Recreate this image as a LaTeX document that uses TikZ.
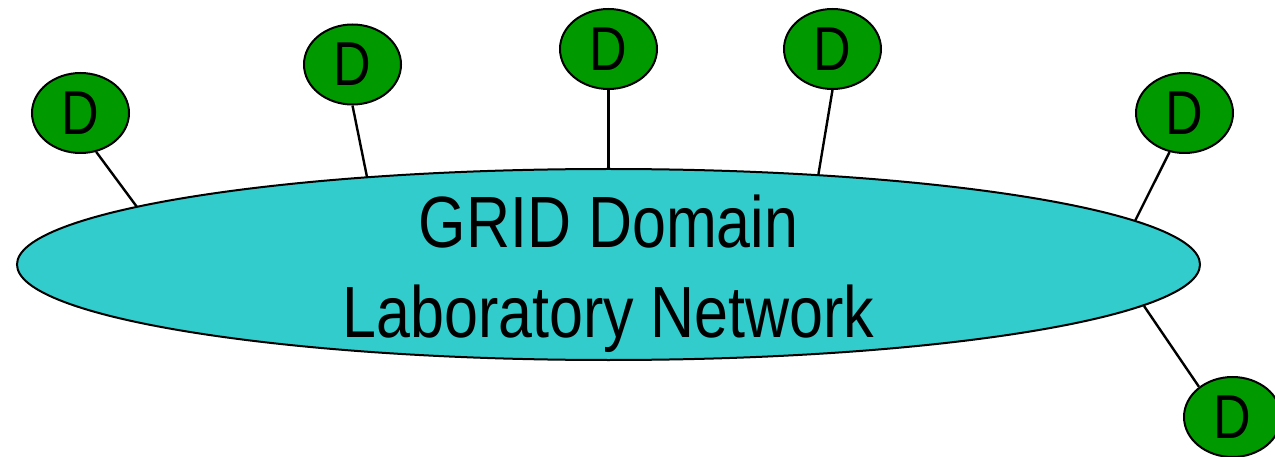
\documentclass[tikz,border=0pt]{standalone}
\usepackage{fontspec}
\newfontfamily\condsans[FakeStretch=0.84]{Liberation Sans}
\usetikzlibrary{shapes.geometric}
\definecolor{netcyan}{RGB}{51,204,204}
\definecolor{dgreen}{RGB}{0,153,0}
\tikzset{
  dnode/.style={ellipse, draw=black, line width=2pt, fill=dgreen, inner sep=0pt,
    minimum width=97pt, minimum height=80pt, font=\condsans\fontsize{62}{62}\selectfont},
  netnode/.style={ellipse, draw=black, line width=2pt, fill=netcyan, inner sep=0pt,
    minimum width=1183pt, minimum height=191pt},
  bigtext/.style={anchor=base, inner sep=0pt, font=\condsans\fontsize{72.6}{80}\selectfont},
  link/.style={draw=black, line width=2.4pt}
}
\begin{document}
\begin{tikzpicture}[x=1pt,y=-1pt]
\useasboundingbox (0,0) rectangle (1275,457);
\clip (0,0) rectangle (1275,457);
\node[netnode] (net) at (608.5,264.5) {};
\node[bigtext] (t1) at (608.5,248) {GRID Domain};
\node[bigtext] (t2) at (608.5,337) {Laboratory Network};
\node[dnode] (d1) at (80.5,113) {D};
\node[dnode] (d2) at (352.5,64.5) {D};
\node[dnode] (d3) at (608.5,49) {D};
\node[dnode] (d4) at (832.5,49) {D};
\node[dnode] (d5) at (1184.5,113) {D};
\node[dnode] (d6) at (1232.5,417) {D};
\coordinate (e1) at (137,207);
\coordinate (e2) at (367,177);
\coordinate (e3) at (608.5,169);
\coordinate (e4) at (818.3,175);
\coordinate (e5) at (1135,221);
\coordinate (e6) at (1144,306);
\draw[link] (d1.-68) -- (e1);
\draw[link] (d2.south) -- (e2);
\draw[link] (d3.south) -- (e3);
\draw[link] (d4.south) -- (e4);
\draw[link] (d5.-111.6) -- (e5);
\draw[link] (d6.138.6) -- (e6);
\end{tikzpicture}
\end{document}
